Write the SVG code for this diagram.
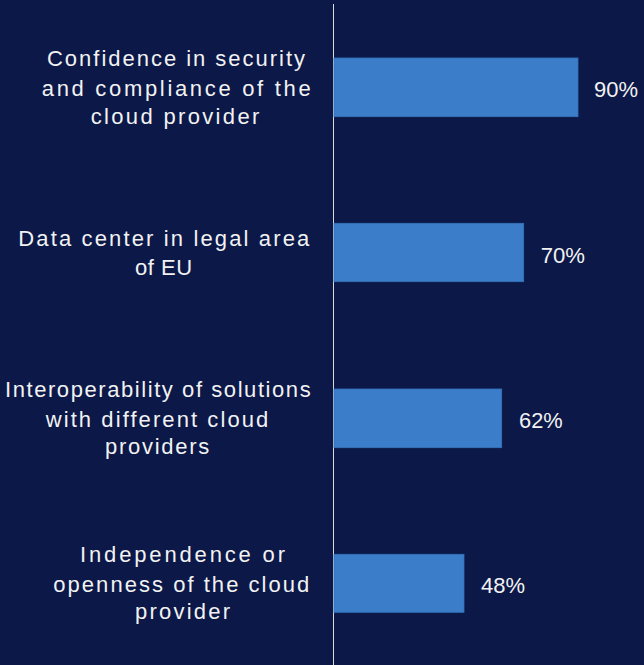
<svg xmlns="http://www.w3.org/2000/svg" width="644" height="665" viewBox="0 0 644 665">
<style>
.lbl{font-family:"Liberation Sans",Arial,sans-serif;font-size:22px;fill:#f2f2f2;text-anchor:middle}
.val{font-family:"Liberation Sans",Arial,sans-serif;font-size:22px;fill:#f2f2f2;text-anchor:start}
.bar{fill:#3b7dc9;stroke:#3672bb;stroke-width:0.8}
</style>
<rect x="0" y="0" width="644" height="665" fill="#0b1848"/>
<g id="axis">
<line x1="333.5" y1="4" x2="333.5" y2="665" stroke="#d9d9d9" stroke-width="1"/>
</g>
<g id="bar1">
<rect class="bar" x="334" y="58" width="244" height="58.7"/>
<text class="val" x="594" y="97.3" textLength="44" lengthAdjust="spacingAndGlyphs">90%</text>
<text class="lbl" y="66" textLength="258" lengthAdjust="spacing"><tspan x="176">Confidence in security</tspan></text>
<text class="lbl" y="95.5" textLength="269" lengthAdjust="spacing"><tspan x="176.2">and compliance of the</tspan></text>
<text class="lbl" y="124.3" textLength="168.6" lengthAdjust="spacing"><tspan x="175">cloud provider</tspan></text>
</g>
<g id="bar2">
<rect class="bar" x="334" y="223.3" width="189.7" height="58.4"/>
<text class="val" x="540.7" y="262.7" textLength="44.3" lengthAdjust="spacingAndGlyphs">70%</text>
<text class="lbl" y="246" textLength="291" lengthAdjust="spacing"><tspan x="163.8">Data center in legal area</tspan></text>
<text class="lbl" y="275" textLength="57.3" lengthAdjust="spacing"><tspan x="163.6">of EU</tspan></text>
</g>
<g id="bar3">
<rect class="bar" x="334" y="389" width="167.7" height="58.7"/>
<text class="val" x="519" y="427.7" textLength="43.7" lengthAdjust="spacingAndGlyphs">62%</text>
<text class="lbl" y="397.3" textLength="305.7" lengthAdjust="spacing"><tspan x="157.8">Interoperability of solutions</tspan></text>
<text class="lbl" y="427.3" textLength="222.6" lengthAdjust="spacing"><tspan x="157">with different cloud</tspan></text>
<text class="lbl" y="454.3" textLength="104.3" lengthAdjust="spacing"><tspan x="157.2">providers</tspan></text>
</g>
<g id="bar4">
<rect class="bar" x="334" y="554.3" width="130" height="58"/>
<text class="val" x="481" y="593.3" textLength="44" lengthAdjust="spacingAndGlyphs">48%</text>
<text class="lbl" y="561.7" textLength="205" lengthAdjust="spacing"><tspan x="182.5">Independence or</tspan></text>
<text class="lbl" y="591.7" textLength="256" lengthAdjust="spacing"><tspan x="181.3">openness of the cloud</tspan></text>
<text class="lbl" y="619.3" textLength="95" lengthAdjust="spacing"><tspan x="182.5">provider</tspan></text>
</g>
</svg>
